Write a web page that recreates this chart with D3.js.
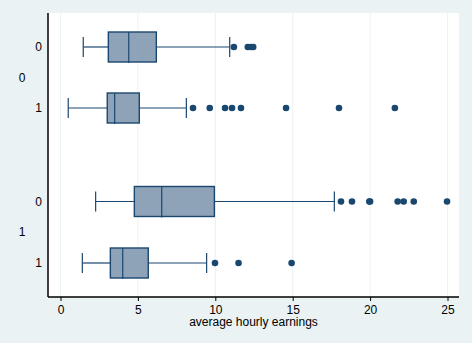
<!DOCTYPE html>
<html lang="en">
<head>
  <meta charset="UTF-8">
  <title>Box plot of average hourly earnings</title>
  <script src="https://d3js.org/d3.v7.min.js"></script>
  <style>
    body { margin: 0; background: #eaf2f3; }
    svg { display: block; font-family: "Liberation Sans", Arial, sans-serif; }
  </style>
</head>
<body>
  <svg width="472" height="343"></svg>
  <script>
    // outer group, inner group, five-number summaries, outliers
    const outerGroups = ["0", "1"];
    const innerGroups = ["0", "1"];
    const rows = ["0-0", "0-1", "1-0", "1-1"];
    const lowWhisker = [1.47, 0.50, 2.27, 1.41];
    const q1 = [3.09, 3.02, 4.77, 3.22];
    const median = [4.41, 3.50, 6.54, 4.02];
    const q3 = [6.19, 5.09, 9.94, 5.67];
    const highWhisker = [10.93, 8.13, 17.69, 9.44];
    const outliers = [
      [11.2, 12.1, 12.3, 12.45],
      [8.56, 9.64, 10.63, 11.08, 11.66, 14.57, 17.99, 21.6],
      [18.12, 18.83, 19.95, 20.0, 21.78, 22.17, 22.82, 24.97],
      [9.98, 11.5, 14.93]
    ];
    const xTicks = [0, 5, 10, 15, 20, 25];
    const xTitle = "average hourly earnings";

    const navy = "#1a476f";
    const boxFill = "#8fa3b8";

    const svg = d3.select("svg");
    const plot = { left: 48, right: 459, top: 13, bottom: 297 };

    const x = d3.scaleLinear().domain([0, 25]).range([60.5, 447.5]);
    // row centers: groups separated by a wider gap
    const y = d3.scaleOrdinal().domain(rows).range([47, 108, 201.5, 263]);
    const boxH = 30;

    svg.append("rect")
      .attr("x", plot.left).attr("y", plot.top)
      .attr("width", plot.right - plot.left).attr("height", plot.bottom - plot.top)
      .attr("fill", "#fff");

    // grid
    svg.append("g").selectAll("line")
      .data(xTicks)
      .join("line")
      .attr("x1", d => x(d)).attr("x2", d => x(d))
      .attr("y1", plot.top).attr("y2", plot.bottom)
      .attr("stroke", "#eaf2f3").attr("stroke-width", 1);

    const xAxis = d3.axisBottom(x).tickValues(xTicks).tickSize(4).tickPadding(4);
    const gx = svg.append("g")
      .attr("transform", `translate(0,${plot.bottom})`)
      .call(xAxis);
    gx.select(".domain").remove();
    gx.selectAll(".tick line").attr("stroke", "#000");
    gx.selectAll(".tick text").attr("font-size", 12).attr("fill", "#000")
      .attr("font-family", "Liberation Sans, Arial, sans-serif");

    svg.append("line")
      .attr("x1", plot.left).attr("x2", plot.right)
      .attr("y1", plot.bottom).attr("y2", plot.bottom)
      .attr("stroke", "#000").attr("stroke-width", 1.5);
    svg.append("line")
      .attr("x1", plot.left).attr("x2", plot.left)
      .attr("y1", plot.top).attr("y2", plot.bottom)
      .attr("stroke", "#000").attr("stroke-width", 1.5);

    svg.append("text")
      .attr("x", (plot.left + plot.right) / 2).attr("y", 326)
      .attr("text-anchor", "middle").attr("font-size", 12)
      .text(xTitle);

    // category labels
    svg.append("g").selectAll("text")
      .data(rows)
      .join("text")
      .attr("x", 42).attr("y", d => y(d))
      .attr("dy", "0.35em").attr("text-anchor", "end").attr("font-size", 12)
      .text((d, i) => innerGroups[i % 2]);

    svg.append("g").selectAll("text")
      .data(outerGroups)
      .join("text")
      .attr("x", 22)
      .attr("y", (d, i) => (y(rows[i * 2]) + y(rows[i * 2 + 1])) / 2)
      .attr("dy", "0.35em").attr("text-anchor", "middle").attr("font-size", 12)
      .text(d => d);

    const boxes = svg.append("g").selectAll("g")
      .data(rows)
      .join("g");

    boxes.append("line")
      .attr("x1", (d, i) => x(lowWhisker[i])).attr("x2", (d, i) => x(q1[i]))
      .attr("y1", d => y(d)).attr("y2", d => y(d))
      .attr("stroke", navy).attr("stroke-width", 1.2);
    boxes.append("line")
      .attr("x1", (d, i) => x(q3[i])).attr("x2", (d, i) => x(highWhisker[i]))
      .attr("y1", d => y(d)).attr("y2", d => y(d))
      .attr("stroke", navy).attr("stroke-width", 1.2);
    boxes.append("line")
      .attr("x1", (d, i) => x(lowWhisker[i])).attr("x2", (d, i) => x(lowWhisker[i]))
      .attr("y1", d => y(d) - 10).attr("y2", d => y(d) + 10)
      .attr("stroke", navy).attr("stroke-width", 1.2);
    boxes.append("line")
      .attr("x1", (d, i) => x(highWhisker[i])).attr("x2", (d, i) => x(highWhisker[i]))
      .attr("y1", d => y(d) - 10).attr("y2", d => y(d) + 10)
      .attr("stroke", navy).attr("stroke-width", 1.2);

    boxes.append("rect")
      .attr("x", (d, i) => x(q1[i])).attr("width", (d, i) => x(q3[i]) - x(q1[i]))
      .attr("y", d => y(d) - boxH / 2).attr("height", boxH)
      .attr("fill", boxFill).attr("stroke", navy).attr("stroke-width", 1.4);
    boxes.append("line")
      .attr("x1", (d, i) => x(median[i])).attr("x2", (d, i) => x(median[i]))
      .attr("y1", d => y(d) - boxH / 2).attr("y2", d => y(d) + boxH / 2 + 1)
      .attr("stroke", navy).attr("stroke-width", 1.2);

    boxes.selectAll("circle")
      .data((d, i) => outliers[i].map(v => ({ v, row: d })))
      .join("circle")
      .attr("cx", d => x(d.v)).attr("cy", d => y(d.row))
      .attr("r", 3.3).attr("fill", navy);
  </script>
</body>
</html>
